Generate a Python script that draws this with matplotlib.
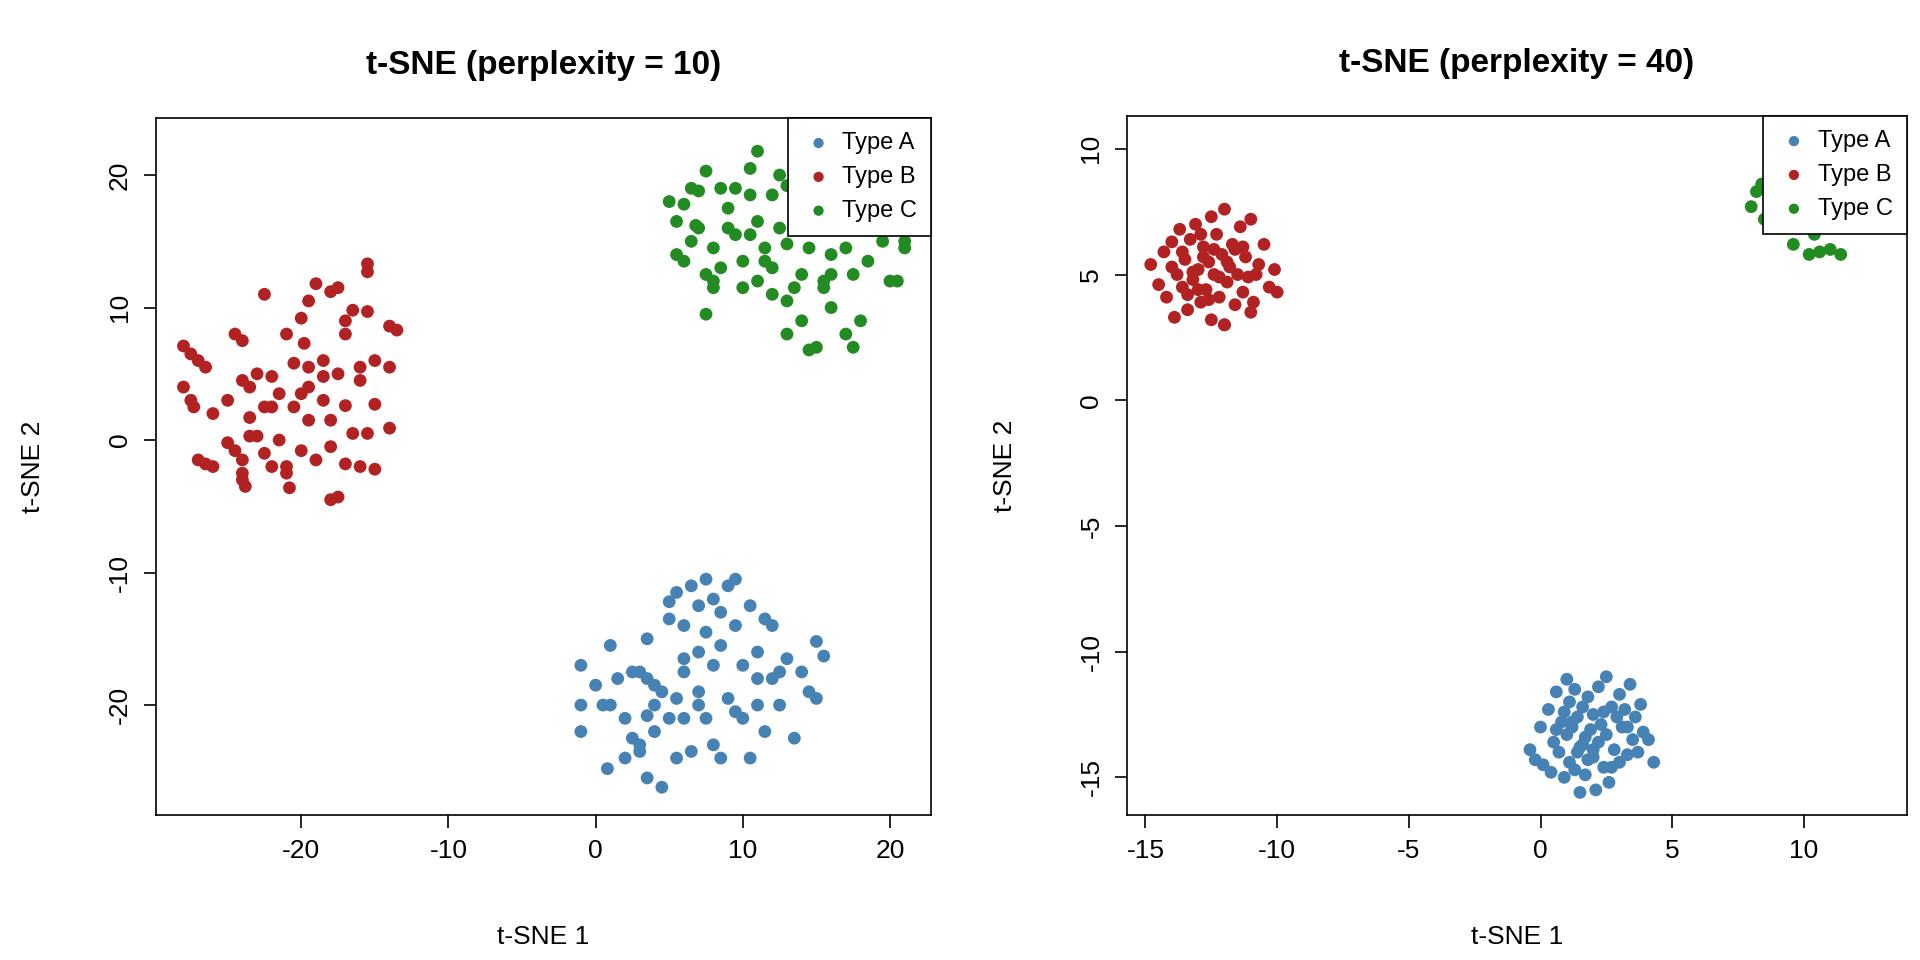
import matplotlib.pyplot as plt

plt.rcParams['font.family'] = ['Liberation Sans', 'DejaVu Sans']
plt.rcParams['axes.unicode_minus'] = False

# ---- perplexity = 10 ----
p10_a_x = [-1, -1, -1, 0, 0.5, 1, 1, 0.8, 1.5, 2, 2.5, 2.5, 3, 3, 3, 3.5, 3.5, 3.5, 4, 4, 4.5, 4.5, 4, 5, 5, 5.5,
           5.5, 5.5, 6, 6, 6, 6.5, 6.5, 7, 7, 7, 7.5, 7.5, 7.5, 8, 8, 8.5, 8.5, 9, 9, 9.5, 9.5, 10, 10, 10.5, 10.5,
           11, 11, 11.5, 11.5, 12, 12, 12.5, 13, 13.5, 14, 14.5, 15, 15, 15.5, 2, 9.5, 6, 8.5, 11, 3.5, 5, 12.5, 8, 7]
p10_a_y = [-17, -20, -22, -18.5, -20, -15.5, -20, -24.8, -18, -21, -17.5, -22.5, -17.5, -23, -23.5, -15, -18, -25.5,
           -18.5, -20, -19, -26.2, -22, -21, -12.2, -11.5, -19.5, -24, -14, -17.5, -21, -11, -23.5, -12.5, -16, -19,
           -10.5, -14.5, -21, -17, -23, -13, -15.5, -11, -19.5, -10.5, -14, -17, -21, -12.5, -24, -16, -20, -13.5, -22,
           -18, -14, -20, -16.5, -22.5, -17.5, -19, -15.2, -19.5, -16.3, -24, -20.5, -16.5, -24, -18, -20.8, -13.5,
           -17.5, -12, -20]
p10_b_x = [-28, -27.5, -27, -26.5, -28, -27.5, -27.3, -27, -26.5, -26, -25, -24.5, -24, -24, -23.8, -25, -24.5, -24,
           -24, -23.5, -23, -23.5, -23, -22.5, -22.5, -22, -22, -21.5, -21, -21, -20.8, -20.5, -20, -20, -19.8, -19.5,
           -19.5, -19, -19, -18.5, -18.5, -18, -17.5, -18, -17.5, -17, -17, -17, -16.5, -16, -16, -15.5, -15.5, -15.5,
           -15, -15, -15, -14, -13.5, -14, -14, -18.5, -20.5, -21, -21.5, -22.5, -19.5, -18, -17, -16.5, -19.5, -23.5,
           -26, -22, -18, -16, -17.5, -20, -15.5, -24]
p10_b_y = [7.1, 6.5, 6, 5.5, 4, 3, 2.5, -1.5, -1.8, -2, -0.2, -0.8, -1.5, -2.5, -3.5, 3, 8, 7.5, 4.5, 4, 5, 0.3, 0.3,
           11, 2.5, 2.5, 4.8, 3.5, -2, -2.5, -3.6, 2.5, -0.8, 9.2, 7.3, 5.5, 4, -1.5, 11.8, 6, 3, -4.5, -4.3, 11.2, 11.5,
           9, 8, 2.6, 0.5, 5.5, -2, 13.3, 12.7, 9.7, 6, 2.7, -2.2, 8.6, 8.3, 5.5, 0.9, 4.8, 5.8, 8, 0, -1, 1.5, -0.5,
           -1.8, 9.8, 10.5, 1.7, 2, -2, 1.5, 4.5, 5, 3.5, 0.5, -3]
p10_c_x = [5, 5.5, 5.5, 6, 6, 6.5, 6.8, 7, 7.5, 7.5, 7.5, 8, 8, 8.5, 8.5, 9, 9.5, 9.5, 10, 10, 10.5, 10.5, 11, 11, 11,
           11.5, 12, 12, 12, 12.5, 13, 13, 13, 13, 13.5, 14, 14, 14.5, 15, 15, 15.5, 15.5, 15.5, 16, 16, 16.5, 16.5, 17,
           17, 17.5, 17.5, 18, 18, 19, 19.5, 20, 20.5, 21, 21, 14.5, 12.5, 9, 6.5, 11.5, 13.5, 16, 10.5, 8, 18.5, 7]
p10_c_y = [18, 16.5, 14, 17.8, 13.5, 19, 16.2, 18.8, 20.3, 12.5, 9.5, 14.5, 11.5, 19, 13, 16, 19, 15.5, 11.5, 13.5,
           18.5, 15.5, 21.8, 16.5, 12, 14.5, 18.5, 13, 11, 16, 19.2, 14.8, 10.5, 8, 17.5, 12.5, 9, 14.5, 16, 7, 18, 12,
           11.5, 14, 10, 19.5, 16, 14.5, 8, 7, 12.5, 9, 17, 18.5, 15, 12, 12, 14.5, 15, 6.8, 20, 17.5, 15, 13.5, 11.5,
           12.5, 20.5, 12, 13.5, 16]

# ---- perplexity = 40 ----
p40_a_x = [-0.4, -0.2, 0, 0.1, 0.3, 0.4, 0.5, 0.6, 0.7, 0.8, 0.9, 1.0, 1.0, 1.1, 1.1, 1.2, 1.3, 1.3, 1.4, 1.5, 1.5,
           1.6, 1.7, 1.7, 1.8, 1.9, 2.0, 2.0, 2.1, 2.2, 2.2, 2.3, 2.4, 2.5, 2.5, 2.6, 2.7, 2.8, 2.9, 3.0, 3.0, 3.1,
           3.2, 3.3, 3.4, 3.5, 3.6, 3.7, 3.9, 4.1, 4.3, 1.6, 2.4, 0.9, 3.3, 1.8, 2.7, 1.2, 0.6, 3.8, 2.0, 1.4]
p40_a_y = [-13.9, -14.3, -13.0, -14.5, -12.3, -14.8, -13.6, -11.6, -14.0, -12.8, -15.0, -11.1, -13.3, -12.0, -14.4,
           -13.0, -11.5, -14.7, -12.6, -13.8, -15.6, -12.2, -13.4, -14.9, -11.8, -13.1, -12.5, -14.2, -15.5, -13.6,
           -11.4, -12.9, -14.6, -11.0, -13.3, -15.2, -12.2, -13.9, -12.6, -14.4, -11.7, -13.0, -12.3, -14.1, -11.3,
           -13.5, -12.6, -14.0, -13.2, -13.5, -14.4, -13.7, -12.4, -12.4, -13.0, -14.3, -14.6, -12.8, -13.1, -12.1,
           -13.9, -14.0]
p40_b_x = [-14.8, -14.5, -14.3, -14.2, -14.0, -13.9, -13.8, -13.7, -13.6, -13.5, -13.4, -13.3, -13.2, -13.1, -13.0,
           -12.9, -12.8, -12.7, -12.6, -12.5, -12.5, -12.4, -12.3, -12.2, -12.1, -12.0, -12.0, -11.9, -11.8, -11.7,
           -11.6, -11.5, -11.4, -11.3, -11.2, -11.1, -11.0, -10.9, -10.7, -10.5, -10.3, -10.1, -10.0, -12.8, -12.2,
           -13.2, -11.6, -12.6, -11.9, -13.0, -12.4, -11.3, -13.6, -10.8, -12.0, -14.0, -11.0, -12.9, -13.4]
p40_b_y = [5.4, 4.6, 5.9, 4.1, 6.3, 3.3, 5.0, 6.8, 4.5, 5.6, 3.6, 6.4, 4.8, 7.0, 5.2, 3.9, 6.1, 4.4, 5.5, 7.3, 3.2,
           5.0, 6.6, 4.1, 5.8, 3.0, 7.6, 4.7, 5.3, 6.2, 3.8, 5.0, 6.9, 4.3, 5.7, 4.9, 7.2, 3.9, 5.4, 6.2, 4.5, 5.2,
           4.3, 5.7, 4.9, 5.1, 6.0, 4.0, 5.5, 4.4, 6.0, 6.1, 5.9, 5.0, 3.0, 5.3, 3.5, 6.6, 4.2]
p40_c_x = [8.0, 8.2, 8.4, 8.5, 8.7, 8.9, 9.0, 9.2, 9.4, 9.6, 9.8, 10.0, 10.2, 10.4, 10.6, 10.8, 11.0, 11.4, 9.5, 10.5]
p40_c_y = [7.7, 8.3, 8.6, 7.2, 9.1, 7.9, 8.5, 6.9, 7.5, 6.2, 8.0, 7.1, 5.8, 6.6, 5.9, 7.3, 6.0, 5.8, 8.8, 7.9]

COLORS = {'Type A': 'steelblue', 'Type B': 'firebrick', 'Type C': 'forestgreen'}

fig = plt.figure(figsize=(19.2, 9.6), dpi=100)
ax1 = fig.add_axes([0.081, 0.151, 0.404, 0.726])
ax2 = fig.add_axes([0.587, 0.151, 0.406, 0.728])

panels = [
    (ax1, 10, [(p10_a_x, p10_a_y), (p10_b_x, p10_b_y), (p10_c_x, p10_c_y)],
     (-29.9, 22.8), (-28.3, 24.3), [-20, -10, 0, 10, 20], [-20, -10, 0, 10, 20]),
    (ax2, 40, [(p40_a_x, p40_a_y), (p40_b_x, p40_b_y), (p40_c_x, p40_c_y)],
     (-15.7, 13.9), (-16.5, 11.3), [-15, -10, -5, 0, 5, 10], [-15, -10, -5, 0, 5, 10]),
]

for ax, perp, groups, xl, yl, xt, yt in panels:
    for (gx, gy), (name, col) in zip(groups, COLORS.items()):
        ax.scatter(gx, gy, s=85, color=col, edgecolors='none', label=name, zorder=2)
    ax.set_xlim(*xl)
    ax.set_ylim(*yl)
    ax.set_xticks(xt)
    ax.set_yticks(yt)
    ax.tick_params(labelsize=19, length=9, width=1.2, pad=8)
    for lab in ax.get_yticklabels():
        lab.set_rotation(90)
        lab.set_va('center')
    for sp in ax.spines.values():
        sp.set_linewidth(1.2)
    ax.set_title(f't-SNE (perplexity = {perp})', fontsize=24, fontweight='bold', pad=32)
    ax.set_xlabel('t-SNE 1', fontsize=19, labelpad=45)
    ax.set_ylabel('t-SNE 2', fontsize=19, labelpad=45)
    leg = ax.legend(loc='upper right', fontsize=17, frameon=True, fancybox=False, framealpha=1,
                    borderaxespad=0, handletextpad=0.3, markerscale=0.8, borderpad=0.6,
                    labelspacing=0.5, handlelength=1.4)
    leg.get_frame().set_edgecolor('black')
    leg.get_frame().set_linewidth(1.2)
    leg.set_zorder(5)

plt.savefig('out.png', dpi=100)
